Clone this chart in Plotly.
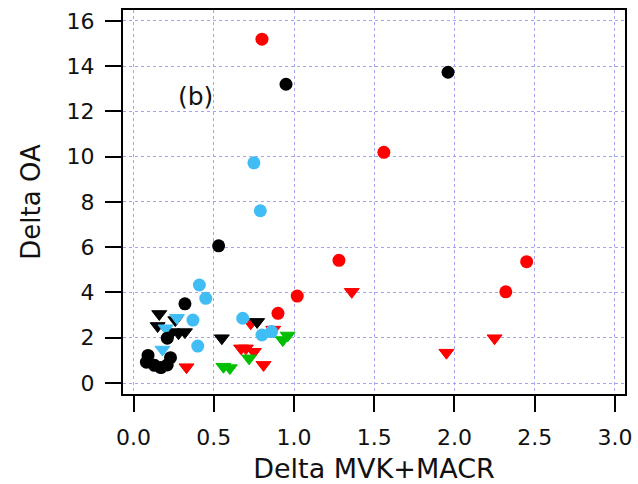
import plotly.graph_objects as go

# Delta OA vs Delta MVK+MACR, grouped by colour / marker type
black_circ_x = [0.09, 0.08, 0.13, 0.17, 0.21, 0.23, 0.21, 0.32, 0.53, 0.95, 1.96]
black_circ_y = [1.22, 0.92, 0.78, 0.68, 0.80, 1.12, 1.98, 3.50, 6.06, 13.20, 13.73]

black_tri_x = [0.16, 0.15, 0.26, 0.24, 0.28, 0.32, 0.55, 0.77]
black_tri_y = [3.05, 2.52, 2.78, 2.25, 2.20, 2.25, 1.98, 2.70]

cyan_circ_x = [0.41, 0.45, 0.37, 0.40, 0.68, 0.80, 0.86, 0.75, 0.79]
cyan_circ_y = [4.33, 3.74, 2.78, 1.63, 2.86, 2.12, 2.27, 9.73, 7.61]

cyan_tri_x = [0.27, 0.20, 0.18]
cyan_tri_y = [2.88, 2.42, 1.48]

red_circ_x = [0.80, 0.90, 1.02, 1.28, 1.56, 2.32, 2.45]
red_circ_y = [15.19, 3.08, 3.84, 5.42, 10.19, 4.03, 5.36]

red_tri_x = [0.33, 0.67, 0.70, 0.75, 0.73, 0.81, 0.87, 1.36, 1.95, 2.25]
red_tri_y = [0.70, 1.53, 1.53, 1.38, 2.64, 0.80, 2.36, 4.03, 1.34, 1.98]

green_tri_x = [0.56, 0.60, 0.72, 0.93, 0.96]
green_tri_y = [0.72, 0.66, 1.09, 1.90, 2.10]

x_ticks = [0.0, 0.5, 1.0, 1.5, 2.0, 2.5, 3.0]
x_tick_text = ["0.0", "0.5", "1.0", "1.5", "2.0", "2.5", "3.0"]
y_ticks = [0, 2, 4, 6, 8, 10, 12, 14, 16]

BLACK = "#000000"
CYAN = "#41bdf5"
RED = "#ff0000"
GREEN = "#00bf00"

CIRC = 13
TRI = 13

# drawing order: first trace ends up underneath
series = [
    (red_tri_x, red_tri_y, RED, "triangle-down", TRI),
    (red_circ_x, red_circ_y, RED, "circle", CIRC),
    (green_tri_x, green_tri_y, GREEN, "triangle-down", TRI),
    (cyan_circ_x, cyan_circ_y, CYAN, "circle", CIRC),
    (black_tri_x, black_tri_y, BLACK, "triangle-down", TRI),
    (cyan_tri_x, cyan_tri_y, CYAN, "triangle-down", TRI),
    (black_circ_x, black_circ_y, BLACK, "circle", CIRC),
]

fig = go.Figure()
for xs, ys, col, sym, sz in series:
    edge = 1 if sym.startswith("triangle") else 0
    fig.add_trace(go.Scatter(
        x=xs, y=ys, mode="markers",
        marker=dict(color=col, symbol=sym, size=sz,
                    line=dict(width=edge, color=col)),
        showlegend=False, hoverinfo="skip",
    ))

fig.add_annotation(x=0.384, y=12.64, text="(b)", showarrow=False,
                   font=dict(family="DejaVu Sans", size=25, color="#111111"))

axis_common = dict(
    showline=True, linecolor="black", linewidth=2, mirror=True,
    ticks="outside", ticklen=16, tickwidth=2, tickcolor="black",
    showgrid=True, gridcolor="#a3a3f3", gridwidth=1, griddash="dot",
    zeroline=False,
    tickfont=dict(family="DejaVu Sans", size=22, color="#111111"),
)

fig.update_xaxes(
    range=[-0.066, 3.063], tickvals=x_ticks, ticktext=x_tick_text,
    ticklabelstandoff=7,
    title=dict(text="Delta MVK+MACR", standoff=13,
               font=dict(family="DejaVu Sans", size=27, color="#111111")),
    **axis_common,
)
fig.update_yaxes(
    range=[-0.486, 16.48], tickvals=y_ticks,
    ticklabelstandoff=6,
    title=dict(text="Delta OA", standoff=18,
               font=dict(family="DejaVu Sans", size=26, color="#111111")),
    **axis_common,
)

fig.update_layout(
    width=638, height=484,
    margin=dict(l=123, r=13, t=10, b=90, autoexpand=False),
    paper_bgcolor="white", plot_bgcolor="white",
)

fig.write_html("out.html")
